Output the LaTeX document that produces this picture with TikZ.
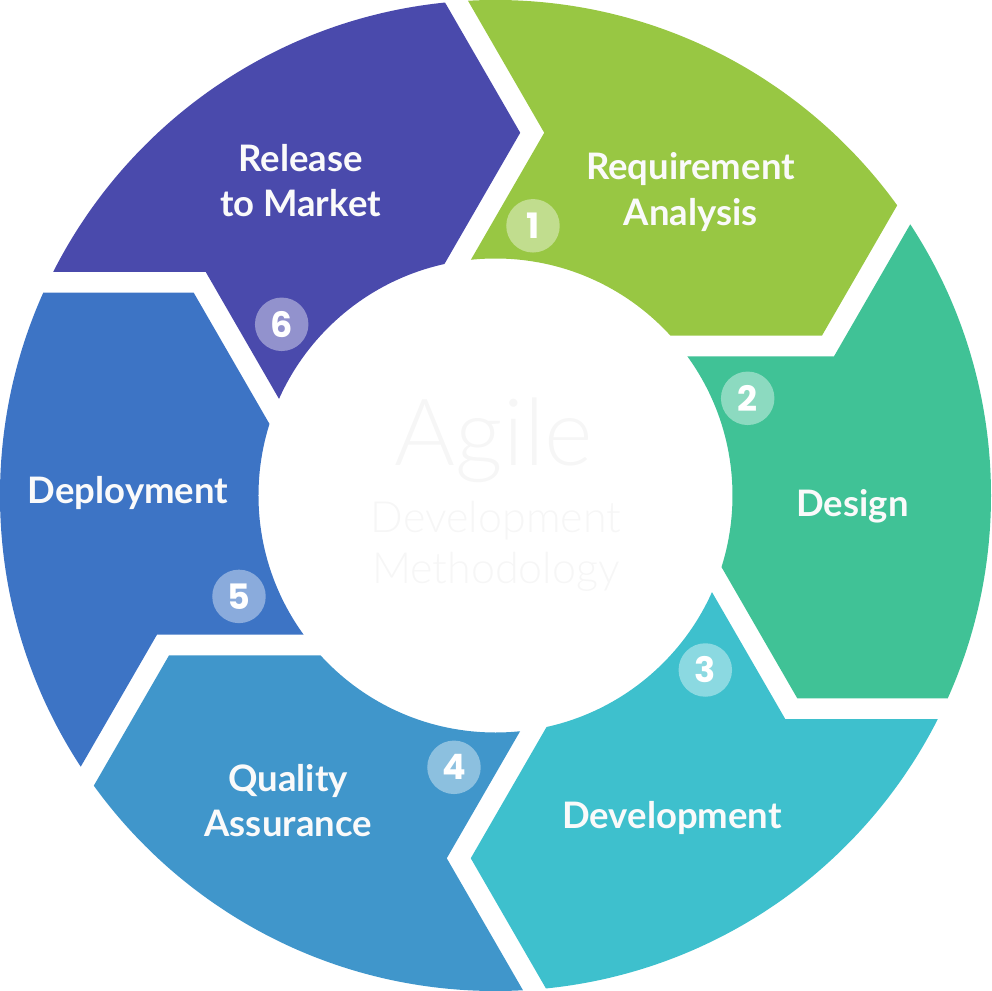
\documentclass[tikz,border=0pt]{standalone}
\usepackage{fontspec}
\setmainfont{Lato}
\newfontfamily\lightfont{Lato Light}
\newfontfamily\numfont{Poppins}
\usetikzlibrary{calc}
\definecolor{cA}{RGB}{152,199,67}
\definecolor{cB}{RGB}{64,194,150}
\definecolor{cC}{RGB}{62,192,205}
\definecolor{cD}{RGB}{64,150,203}
\definecolor{cE}{RGB}{61,116,197}
\definecolor{cF}{RGB}{74,74,172}
\definecolor{ctext}{RGB}{246,246,246}
\definecolor{ltext}{RGB}{250,250,250}
\newcommand{\twolines}[2]{\begin{tabular}[t]{@{}c@{}}#1\\#2\end{tabular}}
\begin{document}
\begin{tikzpicture}[x=1pt,y=1pt,
  lbl/.style={text=ltext, font=\bfseries\fontsize{36.5}{45.6}\selectfont, inner sep=0pt, anchor=base},
  badge/.style={circle, fill=white, fill opacity=0.4, text opacity=1, text=white,
    minimum size=53.5pt, inner sep=0pt, font=\numfont\bfseries\fontsize{35}{35}\selectfont},
  ctr/.style={text=ctext, inner sep=0pt, anchor=base}]
\useasboundingbox (-495.5,-495.5) rectangle (495.5,495.5);
\foreach \k in {0,...,5}{
  \coordinate (T\k) at ({86.1-60*\k}:363.6);
  \coordinate (N\k) at ($(T\k)+({-60*\k}:24)$);
}
\foreach \j/\col in {1/cA,2/cB,3/cC,4/cD,5/cE,6/cF}{
  \pgfmathtruncatemacro\p{\j-1}
  \pgfmathtruncatemacro\q{mod(\j,6)}
  \pgfmathsetmacro\bp{-60*\p}
  \pgfmathsetmacro\bq{-60*\q}
  \begin{scope}
    \clip ($(N\p)+({\bp+120}:900)$) -- (N\p) -- ($(N\p)+({\bp-120}:200)$) -- (0,0)
      -- ($(T\q)+({\bq-120}:200)$) -- (T\q) -- ($(T\q)+({\bq+120}:900)$) -- cycle;
    \fill[\col, even odd rule] (0,0) circle[radius=495.5pt] (0,0) circle[radius=237pt];
  \end{scope}
}
\node[badge] (b1) at (37.5,269.7) {1};
\node[badge] (b2) at (252.2,97.2) {2};
\node[badge] (b3) at (209.8,-174.5) {3};
\node[badge] (b4) at (-41.5,-271.8) {4};
\node[badge] (b5) at (-256.5,-100.9) {5};
\node[badge] (b6) at (-213.8,171.2) {6};
\node[lbl] (l1) at (195,315.5) {\twolines{Requirement}{Analysis}};
\node[lbl] (l2) at (357,-21.2) {Design};
\node[lbl] (l3) at (176.5,-332.8) {Development};
\node[lbl] (l4) at (-207.3,-295.5) {\twolines{Quality}{Assurance}};
\node[lbl] (l5) at (-367.5,-8.1) {Deployment};
\node[lbl] (l6) at (-195,324.1) {\twolines{Release}{to Market}};
\node[ctr, font=\lightfont\fontsize{93}{93}\selectfont] (agile) at (-1.5,30.5) {Agile};
\node[ctr, font=\lightfont\fontsize{43}{50.6}\selectfont] (adm) at (0.5,-37.2) {\twolines{Development}{Methodology}};
\end{tikzpicture}
\end{document}
